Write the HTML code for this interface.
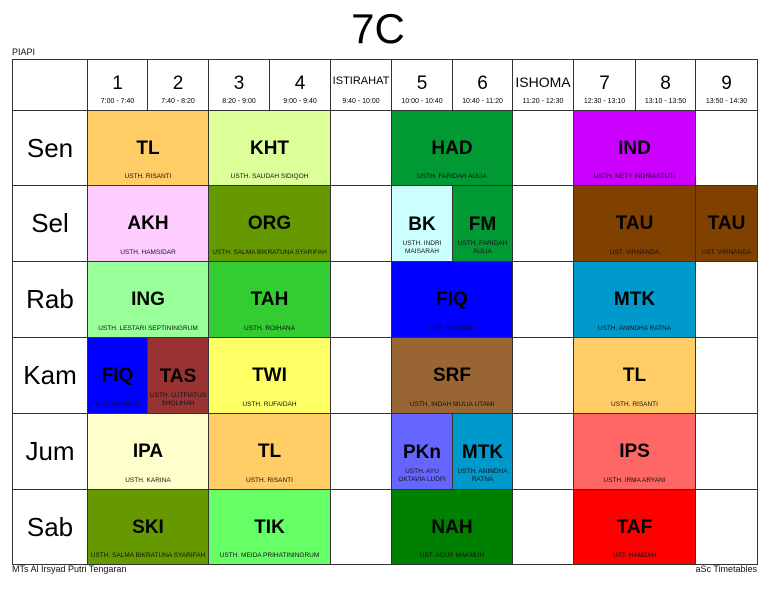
<!DOCTYPE html>
<html><head><meta charset="utf-8"><style>
body{margin:0;width:768px;height:594px;background:#fff;position:relative;font-family:"Liberation Sans",sans-serif;overflow:hidden}
.c{position:absolute;box-sizing:border-box;border:1px solid #333;text-align:center;overflow:hidden}
.t{position:absolute;font-size:7px;color:#111;white-space:nowrap}
</style></head><body>
<div style="position:absolute;left:0;width:756px;top:6px;text-align:center;font-size:42px;line-height:46px">7C</div>
<div class="t" style="left:12px;top:47px;font-size:9px">PIAPI</div>
<div class="t" style="left:12px;top:564px;font-size:9px">MTs Al Irsyad Putri Tengaran</div>
<div class="t" style="right:11px;top:564px;font-size:9px">aSc Timetables</div>
<div id="g"></div>
<script>
const xs=[12,87,147,208,269,330,391,452,512,573,635,695,757];
const ys=[59,110,185,261,337,413,489,564];
const headNums=["1","2","3","4","ISTIRAHAT","5","6","ISHOMA","7","8","9"];
const headTimes=["7:00 - 7:40","7:40 - 8:20","8:20 - 9:00","9:00 - 9:40","9:40 - 10:00","10:00 - 10:40","10:40 - 11:20","11:20 - 12:30","12:30 - 13:10","13:10 - 13:50","13:50 - 14:30"];
const days=["Sen","Sel","Rab","Kam","Jum","Sab"];
const lessons=[
[0,0,2,"TL","USTH. RISANTI","#ffcc66"],[0,2,2,"KHT","USTH. SAUDAH SIDIQOH","#ddff99"],[0,5,2,"HAD","USTH. FARIDAH AULIA","#009933"],[0,8,2,"IND","USTH. NETY INDRIASTUTI","#cc00ff"],
[1,0,2,"AKH","USTH. HAMSIDAR","#ffccff"],[1,2,2,"ORG","USTH. SALMA BIKRATUNA SYARIFAH","#669900"],[1,5,1,"BK","USTH. INDRI<br>MAISARAH","#ccffff"],[1,6,1,"FM","USTH. FARIDAH<br>AULIA","#009933"],[1,8,2,"TAU","UST. VIRNANDA","#804000"],[1,10,1,"TAU","UST. VIRNANDA","#804000"],
[2,0,2,"ING","USTH. LESTARI SEPTININGRUM","#99ff99"],[2,2,2,"TAH","USTH. ROIHANA","#33cc33"],[2,5,2,"FIQ","UST. SUGIMIN","#0000ff"],[2,8,2,"MTK","USTH. ANINDHA RATNA","#0099cc"],
[3,0,1,"FIQ","UST. SUGIMIN","#0000ff"],[3,1,1,"TAS","USTH. LUTFIATUS<br>SHOLIHAH","#993333"],[3,2,2,"TWI","USTH. RUFAIDAH","#ffff66"],[3,5,2,"SRF","USTH. INDAH MULIA UTAMI","#996633"],[3,8,2,"TL","USTH. RISANTI","#ffcc66"],
[4,0,2,"IPA","USTH. KARINA","#ffffcc"],[4,2,2,"TL","USTH. RISANTI","#ffcc66"],[4,5,1,"PKn","USTH. AYU<br>OKTAVIA LUDFI","#6666ff"],[4,6,1,"MTK","USTH. ANINDHA<br>RATNA","#0099cc"],[4,8,2,"IPS","USTH. IRMA ARYANI","#ff6666"],
[5,0,2,"SKI","USTH. SALMA BIKRATUNA SYARIFAH","#669900"],[5,2,2,"TIK","USTH. MEIDA PRIHATININGRUM","#66ff66"],[5,5,2,"NAH","UST. AGUS MAKMUN","#008000"],[5,8,2,"TAF","UST. HAMZAH","#ff0000"]
];
const g=document.getElementById('g');
function box(x1,y1,x2,y2,bg){const d=document.createElement('div');d.className='c';d.style.cssText+=`left:${x1}px;top:${y1}px;width:${x2-x1+1}px;height:${y2-y1+1}px;background:${bg}`;g.appendChild(d);return d;}
const corner=box(xs[0],ys[0],xs[1],ys[1],'#fff');


headNums.forEach((n,i)=>{const d=box(xs[i+1],ys[0],xs[i+2],ys[1],'#fff');


const big=n.length>2;
d.innerHTML=`<div style="position:absolute;left:0;right:0;top:${big?(n==='ISHOMA'?14:15):13}px;font-size:${big?(n==='ISHOMA'?14:11):19}px">${n}</div><div style="position:absolute;left:0;right:0;top:38px;font-size:7px">${headTimes[i]}</div>`;});
days.forEach((dn,r)=>{const d=box(xs[0],ys[r+1],xs[1],ys[r+2],'#fff');


d.innerHTML=`<div style="position:absolute;left:0;right:0;top:22px;font-size:26px">${dn}</div>`;
for(let i=0;i<11;i++){const e=box(xs[i+1],ys[r+1],xs[i+2],ys[r+2],'#fff');

}});
lessons.forEach(l=>{const [r,s,sp,lab,tch,bg]=l;const d=box(xs[s+1],ys[r+1],xs[s+1+sp],ys[r+2],bg);


const two=tch.includes('<br>');
d.innerHTML=`<div style="position:absolute;left:0;right:0;top:${two?28:27}px;font-size:19px;font-weight:bold;color:#000">${lab}</div><div style="position:absolute;left:0;right:0;bottom:${two?5:4}px;font-size:6.5px;line-height:8px;color:#111">${tch}</div>`;});
</script>
</body></html>
